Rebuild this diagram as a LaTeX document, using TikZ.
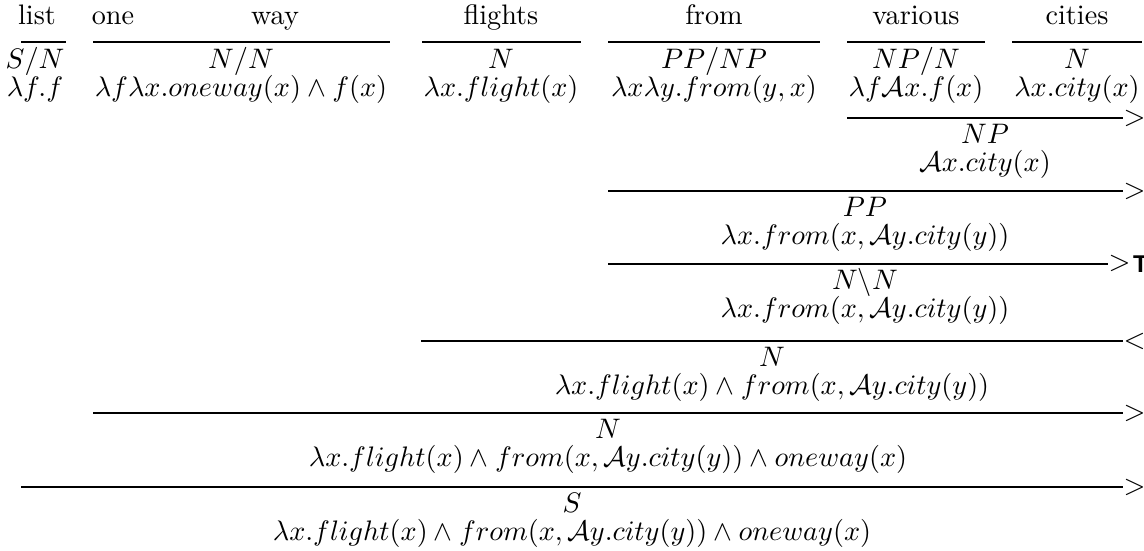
\documentclass[tikz,border=0pt]{standalone}
\usepackage{fontspec}
\newfontfamily\tlabfont{Liberation Sans}
\begin{document}
\begin{tikzpicture}[x=0.3546pt,y=-0.3546pt,
  txt/.style={anchor=base,inner sep=0pt,outer sep=0pt},
  rulel/.style={line width=0.45pt},
  rlab/.style={anchor=west,inner sep=0pt,outer sep=0pt,xshift=0.2pt}]
\useasboundingbox (0,0) rectangle (1144,551);
% words
\node[txt] (wlist) at (37,25) {list};
\node[txt] (wone) at (113,25) {one};
\node[txt] (wway) at (275,25) {way};
\node[txt] (wflights) at (501,25) {flights};
\node[txt] (wfrom) at (714,25) {from};
\node[txt] (wvarious) at (916,25) {various};
\node[txt] (wcities) at (1077,25) {cities};
% lexical rules
\coordinate (t1a) at (21,42);   \coordinate (t1b) at (66,42);
\coordinate (t2a) at (93,42);   \coordinate (t2b) at (390,42);
\coordinate (t3a) at (422,42);  \coordinate (t3b) at (581,42);
\coordinate (t4a) at (608,42);  \coordinate (t4b) at (820,42);
\coordinate (t5a) at (847,42);  \coordinate (t5b) at (985,42);
\coordinate (t6a) at (1012,42); \coordinate (t6b) at (1142,42);
\foreach \i in {1,...,6} {\draw[rulel] (t\i a) -- (t\i b);}
% lexical categories
\node[txt] (c1) at (35,69) {$S/N$};
\node[txt] (c2) at (241,69) {$N/N$};
\node[txt] (c3) at (501,69) {$N$};
\node[txt] (c4) at (714,69) {$PP/NP$};
\node[txt] (c5) at (916,69) {$NP/N$};
\node[txt] (c6) at (1077,69) {$N$};
\node[txt] (s1) at (35,97) {$\lambda f.f$};
\node[txt] (s2) at (241,97) {$\lambda f\lambda x.oneway(x)\wedge f(x)$};
\node[txt] (s3) at (501,97) {$\lambda x.flight(x)$};
\node[txt] (s4) at (714,97) {$\lambda x\lambda y.from(y,x)$};
\node[txt] (s5) at (916,97) {$\lambda f\mathcal{A}x.f(x)$};
\node[txt] (s6) at (1077,97) {$\lambda x.city(x)$};
% derivation step 1
\coordinate (d1a) at (847,118); \coordinate (d1b) at (1123,118);
\draw[rulel] (d1a) -- (d1b);
\node[rlab] (o1) at (d1b) {$>$};
\node[txt] (r1c) at (985,144) {$NP$};
\node[txt] (r1s) at (985,172) {$\mathcal{A}x.city(x)$};
% step 2
\coordinate (d2a) at (608,191); \coordinate (d2b) at (1123,191);
\draw[rulel] (d2a) -- (d2b);
\node[rlab] (o2) at (d2b) {$>$};
\node[txt] (r2c) at (865,217) {$PP$};
\node[txt] (r2s) at (865,245) {$\lambda x.from(x,\mathcal{A}y.city(y))$};
% step 3
\coordinate (d3a) at (608,264); \coordinate (d3b) at (1108,264);
\draw[rulel] (d3a) -- (d3b);
\node[rlab] (o3) at (d3b) {$>$\kern0.9pt\raisebox{-0.5pt}{\fontsize{8.6}{10}\tlabfont\bfseries T}};
\node[txt] (r3c) at (865,290) {$N\backslash N$};
\node[txt] (r3s) at (865,318) {$\lambda x.from(x,\mathcal{A}y.city(y))$};
% step 4
\coordinate (d4a) at (421,341); \coordinate (d4b) at (1123,341);
\draw[rulel] (d4a) -- (d4b);
\node[rlab] (o4) at (d4b) {$<$};
\node[txt] (r4c) at (772,367) {$N$};
\node[txt] (r4s) at (772,395) {$\lambda x.flight(x)\wedge from(x,\mathcal{A}y.city(y))$};
% step 5
\coordinate (d5a) at (93,413); \coordinate (d5b) at (1123,413);
\draw[rulel] (d5a) -- (d5b);
\node[rlab] (o5) at (d5b) {$>$};
\node[txt] (r5c) at (608,439) {$N$};
\node[txt] (r5s) at (608,467) {$\lambda x.flight(x)\wedge from(x,\mathcal{A}y.city(y))\wedge oneway(x)$};
% step 6
\coordinate (d6a) at (21,487); \coordinate (d6b) at (1123,487);
\draw[rulel] (d6a) -- (d6b);
\node[rlab] (o6) at (d6b) {$>$};
\node[txt] (r6c) at (572,513) {$S$};
\node[txt] (r6s) at (572,541) {$\lambda x.flight(x)\wedge from(x,\mathcal{A}y.city(y))\wedge oneway(x)$};
\end{tikzpicture}
\end{document}
